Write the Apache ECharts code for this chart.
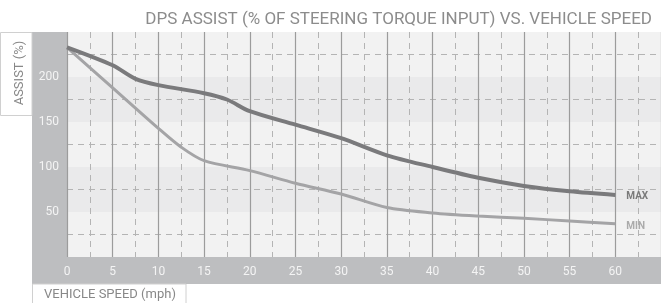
<!DOCTYPE html>
<html>
<head>
<meta charset="utf-8">
<script src="https://cdn.jsdelivr.net/npm/echarts@6/dist/echarts.min.js"></script>
<style>
  html, body { margin: 0; padding: 0; background: #fff; }
  #chart { width: 661px; height: 303px; }
</style>
</head>
<body>
<div id="chart"></div>
<script>
// data
var maxSpeed = [0, 5, 7.5, 10, 15, 17.5, 20, 25, 30, 35, 40, 45, 50, 55, 60];
var maxAssist = [233, 213, 198, 191, 182, 175, 162, 147, 132, 113, 100, 88, 79, 73, 69];
var minSpeed = [0, 5, 10, 12.5, 15, 20, 25, 30, 35, 40, 45, 50, 55, 60];
var minAssist = [233, 188, 143, 122, 107, 96, 82, 70, 55, 49, 45.5, 43, 40, 37];

function pairs(xs, ys) {
    var out = [];
    for (var i = 0; i < xs.length; i++) out.push([xs[i], ys[i]]);
    return out;
}

var myChart = echarts.init(document.getElementById('chart'));

var option = {
    backgroundColor: '#fff',
    animation: false,
    title: {
        text: 'DPS ASSIST (% OF STEERING TORQUE INPUT) VS. VEHICLE SPEED',
        right: 4,
        top: 6,
        textStyle: {
            fontFamily: 'Roboto',
            fontSize: 17,
            fontWeight: 'normal',
            color: '#8c8c8c'
        }
    },
    grid: { left: 67, top: 32, right: -2, bottom: 46 },
    graphic: [
        // gray axis bands
        { type: 'rect', z: -10, shape: { x: 32, y: 32, width: 35, height: 252 }, style: { fill: '#bdbec0' } },
        { type: 'rect', z: -10, shape: { x: 32, y: 257, width: 629, height: 27 }, style: { fill: '#bdbec0' } },
        // axis name boxes
        { type: 'rect', shape: { x: 0.5, y: 32.5, width: 31.5, height: 83 }, style: { fill: '#fff', stroke: '#d0d0d0', lineWidth: 1 } },
        { type: 'text', x: 20, y: 73, rotation: Math.PI / 2,
          style: { text: 'ASSIST (%)', fontFamily: 'Roboto', fontSize: 13, fill: '#888', align: 'center', verticalAlign: 'middle' } },
        { type: 'rect', shape: { x: 32.5, y: 284, width: 153.5, height: 20 }, style: { fill: '#fff', stroke: '#d0d0d0', lineWidth: 1 } },
        { type: 'text', x: 110, y: 295,
          style: { text: 'VEHICLE SPEED (mph)', fontFamily: 'Roboto', fontSize: 13, fill: '#888', align: 'center', verticalAlign: 'middle' } }
    ],
    xAxis: {
        type: 'value',
        min: 0,
        max: 65,
        interval: 5,
        axisLine: { show: false },
        axisTick: { show: false },
        axisLabel: {
            showMaxLabel: false,
            margin: 9,
            color: '#f4f4f4',
            fontFamily: 'Roboto',
            fontSize: 12
        },
        splitLine: { show: true, lineStyle: { color: '#9c9c9c', width: 1.2 } },
        minorTick: { show: false, splitNumber: 2 },
        minorSplitLine: { show: true, lineStyle: { color: '#b4b4b4', type: [6, 5], width: 1 } }
    },
    yAxis: {
        type: 'value',
        min: 0,
        max: 250,
        interval: 50,
        axisLine: { show: false },
        axisTick: { show: false },
        axisLabel: {
            showMinLabel: false,
            showMaxLabel: false,
            margin: 8,
            color: '#f4f4f4',
            fontFamily: 'Roboto',
            fontSize: 12
        },
        splitLine: { show: false },
        splitArea: { show: true, areaStyle: { color: ['#f2f2f2', '#eaeaeb'] } },
        minorTick: { show: false, splitNumber: 2 },
        minorSplitLine: { show: true, lineStyle: { color: '#b4b4b4', type: [6, 5], width: 1 } }
    },
    series: [
        {
            name: 'MAX',
            type: 'line',
            data: pairs(maxSpeed, maxAssist),
            smooth: 0.3,
            symbol: 'none',
            lineStyle: { color: '#7a7a7c', width: 4 },
            endLabel: {
                show: true,
                formatter: 'MAX',
                distance: 11,
                offset: [0, 2],
                color: '#7a7a7a',
                fontFamily: 'Roboto',
                fontWeight: 'bold',
                fontSize: 10
            },
            z: 3
        },
        {
            name: 'MIN',
            type: 'line',
            data: pairs(minSpeed, minAssist),
            smooth: 0.3,
            symbol: 'none',
            lineStyle: { color: '#a4a4a6', width: 3 },
            endLabel: {
                show: true,
                formatter: 'MIN',
                distance: 11,
                offset: [0, 3],
                color: '#ababab',
                fontFamily: 'Roboto',
                fontWeight: 'bold',
                fontSize: 10
            },
            z: 2
        }
    ]
};

myChart.setOption(option);
</script>
</body>
</html>
